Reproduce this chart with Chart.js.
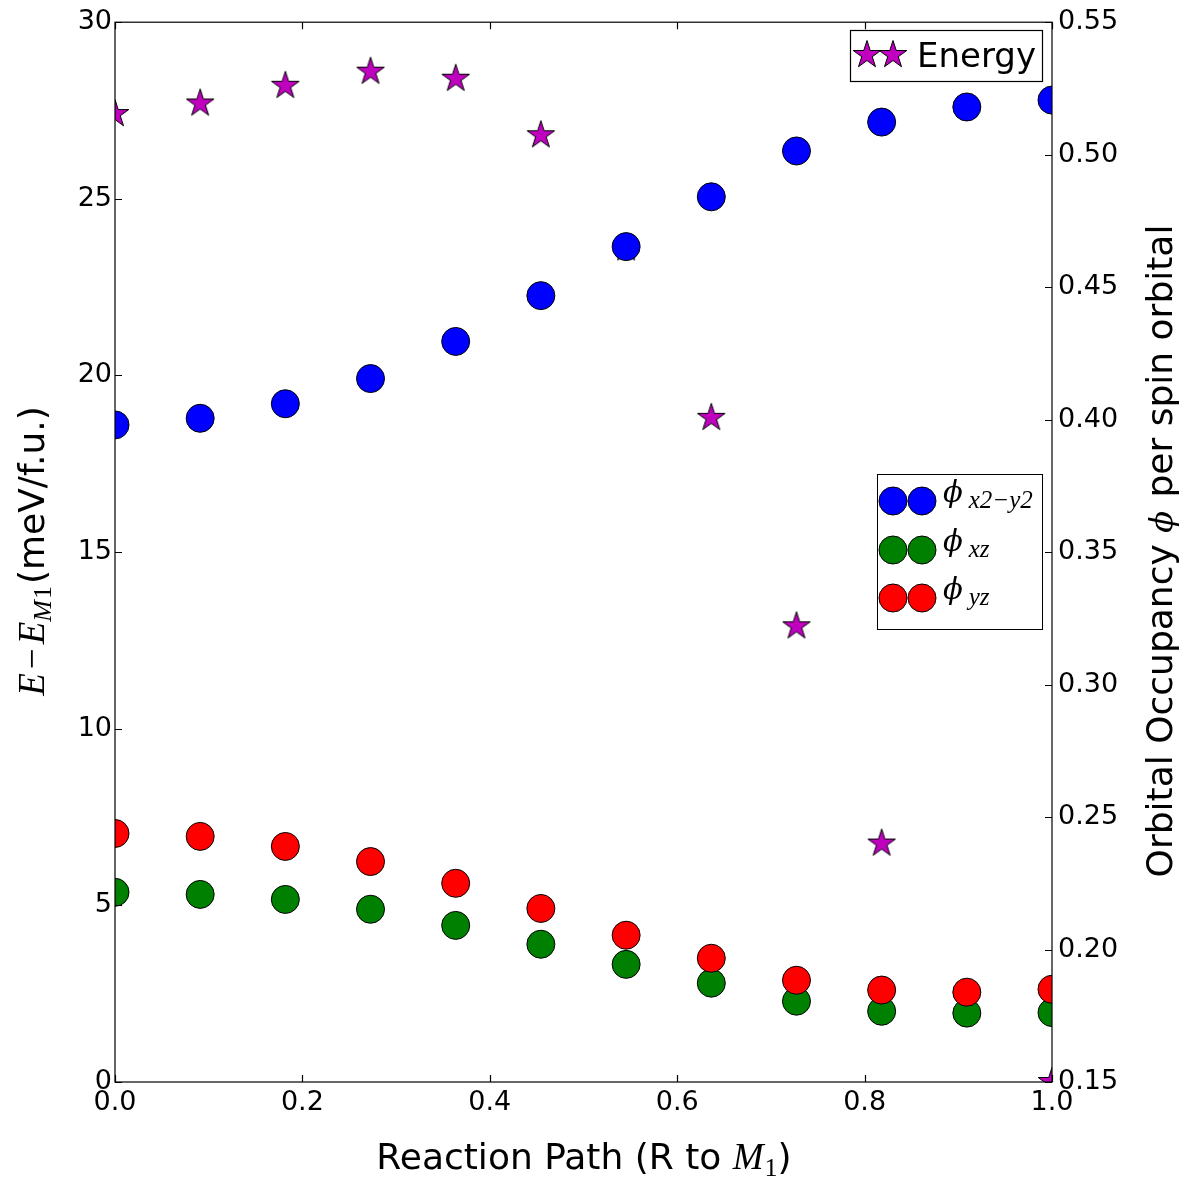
<!DOCTYPE html>
<html>
<head>
<meta charset="utf-8">
<script src="https://cdn.jsdelivr.net/npm/chart.js@4"></script>
<style>
  html, body { margin: 0; padding: 0; background: #fff; }
</style>
</head>
<body>
<canvas id="chart" width="1188" height="1183"></canvas>
<script>
// reaction coordinate, R (0) to M1 (1)
var path = [0, 0.0909, 0.1818, 0.2727, 0.3636, 0.4545, 0.5455, 0.6364, 0.7273, 0.8182, 0.9091, 1.0];

// E - E_M1 in meV/f.u. (left axis)
var energy = [27.4, 27.7, 28.2, 28.6, 28.4, 26.8, 23.6, 18.8, 12.9, 6.75, 2.4, 0.0];

// orbital occupancy per spin orbital (right axis)
var occX2Y2 = [0.398, 0.4005, 0.406, 0.4155, 0.4295, 0.4468, 0.4653, 0.4841, 0.5014, 0.5123, 0.518, 0.5206];
var occXZ = [0.2216, 0.2208, 0.2189, 0.2152, 0.2091, 0.2020, 0.1944, 0.1873, 0.1805, 0.1767, 0.1760, 0.1762];
var occYZ = [0.2438, 0.2427, 0.2389, 0.2332, 0.2250, 0.2155, 0.2054, 0.1967, 0.1884, 0.1847, 0.1839, 0.1850];

var xTicks = [0, 0.2, 0.4, 0.6, 0.8, 1.0];
var leftTicks = [0, 5, 10, 15, 20, 25, 30];
var rightTicks = [0.15, 0.20, 0.25, 0.30, 0.35, 0.40, 0.45, 0.50, 0.55];

var MAGENTA = '#bf00bf';
var SANS = 'DejaVu Sans';
var MATH = '"Liberation Serif", "DejaVu Serif", serif';
var STAR_R = 14.5;

function pts(ys) {
  return path.map(function (x, i) { return { x: x, y: ys[i] }; });
}

// five pointed star, drawn onto a small canvas so it can be used as a pointStyle
function traceStar(ctx, cx, cy, r) {
  var inner = r * 0.382;
  ctx.beginPath();
  for (var k = 0; k < 10; k++) {
    var rad = k % 2 === 0 ? r : inner;
    var a = -Math.PI / 2 + k * Math.PI / 5;
    var px = cx + rad * Math.cos(a), py = cy + rad * Math.sin(a);
    if (k === 0) ctx.moveTo(px, py); else ctx.lineTo(px, py);
  }
  ctx.closePath();
}
function drawStar(ctx, cx, cy, r) {
  traceStar(ctx, cx, cy, r);
  ctx.fillStyle = MAGENTA;
  ctx.fill();
  ctx.lineWidth = 1;
  ctx.strokeStyle = '#000';
  ctx.stroke();
}
function drawDot(ctx, cx, cy, r, color) {
  ctx.beginPath();
  ctx.arc(cx, cy, r, 0, Math.PI * 2);
  ctx.fillStyle = color;
  ctx.fill();
  ctx.lineWidth = 1;
  ctx.strokeStyle = '#000';
  ctx.stroke();
}
var starImg = document.createElement('canvas');
starImg.width = 34; starImg.height = 34;
drawStar(starImg.getContext('2d'), 17, 17, STAR_R);

// text made of several runs with different fonts, centred on (cx, cy)
function drawRich(ctx, parts, cx, cy, angle) {
  ctx.save();
  ctx.translate(cx, cy);
  ctx.rotate(angle || 0);
  var total = 0;
  parts.forEach(function (p) {
    ctx.font = p.font;
    p.w = ctx.measureText(p.text).width;
    total += p.w + (p.gap || 0);
  });
  var x = -total / 2;
  ctx.textAlign = 'left';
  ctx.textBaseline = 'alphabetic';
  ctx.fillStyle = '#000';
  parts.forEach(function (p) {
    ctx.font = p.font;
    ctx.fillText(p.text, x, p.dy || 0);
    x += p.w + (p.gap || 0);
  });
  ctx.restore();
}
function drawRichLeft(ctx, parts, x, y) {
  ctx.save();
  ctx.textAlign = 'left';
  ctx.textBaseline = 'alphabetic';
  ctx.fillStyle = '#000';
  parts.forEach(function (p) {
    ctx.font = p.font;
    ctx.fillText(p.text, x, y + (p.dy || 0));
    x += ctx.measureText(p.text).width + (p.gap || 0);
  });
  ctx.restore();
}

// frame, inward ticks, axis titles and the two legend boxes
var decorations = {
  id: 'decorations',
  afterDatasetsDraw: function (chart) {
    var ctx = chart.ctx, a = chart.chartArea;
    var sx = chart.scales.x, sl = chart.scales.y, sr = chart.scales.y1;
    var tl = 7;
    ctx.save();
    ctx.strokeStyle = '#000';
    ctx.lineWidth = 1.2;
    ctx.strokeRect(a.left, a.top, a.right - a.left, a.bottom - a.top);
    ctx.beginPath();
    xTicks.forEach(function (v) {
      var px = Math.round(sx.getPixelForValue(v)) + 0.5;
      ctx.moveTo(px, a.bottom); ctx.lineTo(px, a.bottom - tl);
      ctx.moveTo(px, a.top); ctx.lineTo(px, a.top + tl);
    });
    leftTicks.forEach(function (v) {
      var py = Math.round(sl.getPixelForValue(v)) + 0.5;
      ctx.moveTo(a.left, py); ctx.lineTo(a.left + tl, py);
    });
    rightTicks.forEach(function (v) {
      var py = Math.round(sr.getPixelForValue(v)) + 0.5;
      ctx.moveTo(a.right, py); ctx.lineTo(a.right - tl, py);
    });
    ctx.stroke();
    ctx.restore();
  },
  afterDraw: function (chart) {
    var ctx = chart.ctx;
    var big = '36px ' + SANS;
    var mi = 'italic 37px ' + MATH;
    var mr = '37px ' + MATH;
    var sub = 'italic 26px ' + MATH;
    var subr = '26px ' + MATH;

    drawRich(ctx, [
      { text: 'Reaction Path (R to ', font: big },
      { text: 'M', font: mi, gap: 1 },
      { text: '1', font: subr, dy: 7 },
      { text: ')', font: big }
    ], 584, 1169, 0);

    drawRich(ctx, [
      { text: 'E', font: mi, gap: 4 },
      { text: '\u2212', font: mr, gap: 4 },
      { text: 'E', font: mi },
      { text: 'M', font: sub, dy: 7, gap: 1 },
      { text: '1', font: subr, dy: 7, gap: 2 },
      { text: '(meV/f.u.)', font: big }
    ], 44, 551, -Math.PI / 2);

    drawRich(ctx, [
      { text: 'Orbital Occupancy ', font: big },
      { text: '\u03d5', font: 'italic 32px "DejaVu Serif", serif', gap: 2 },
      { text: ' per spin orbital', font: big }
    ], 1172, 551, -Math.PI / 2);

    // energy legend
    ctx.save();
    ctx.fillStyle = '#fff';
    ctx.fillRect(850, 30, 192, 51);
    ctx.strokeStyle = '#000';
    ctx.lineWidth = 1.2;
    ctx.strokeRect(850.5, 30.5, 192, 51);
    drawStar(ctx, 867, 55, STAR_R);
    drawStar(ctx, 893, 55, STAR_R);
    ctx.fillStyle = '#000';
    ctx.font = '34px ' + SANS;
    ctx.textBaseline = 'alphabetic';
    ctx.fillText('Energy', 917, 67);

    // occupancy legend
    ctx.fillStyle = '#fff';
    ctx.fillRect(877, 474, 165, 155);
    ctx.strokeRect(877.5, 474.5, 165, 155);
    var rows = [
      { y: 501, color: '#0000ff', sub: 'x2\u2212y2' },
      { y: 550, color: '#008000', sub: 'xz' },
      { y: 598, color: '#ff0000', sub: 'yz' }
    ];
    rows.forEach(function (r) {
      drawDot(ctx, 893, r.y, 14, r.color);
      drawDot(ctx, 922, r.y, 14, r.color);
      drawRichLeft(ctx, [
        { text: '\u03d5', font: 'italic 29px "DejaVu Serif", serif', gap: 6 },
        { text: r.sub, font: 'italic 25px ' + MATH, dy: 6 }
      ], 943, r.y + 1);
    });
    ctx.restore();
  }
};

Chart.defaults.font.family = SANS;
Chart.defaults.font.size = 27;
Chart.defaults.color = '#000';

function dotSet(label, ys, color, order) {
  return {
    label: label,
    data: pts(ys),
    yAxisID: 'y1',
    showLine: false,
    pointStyle: 'circle',
    pointRadius: 14,
    pointHoverRadius: 14,
    pointBackgroundColor: color,
    pointBorderColor: '#000',
    pointBorderWidth: 1,
    clip: 0,
    order: order
  };
}

new Chart(document.getElementById('chart'), {
  type: 'scatter',
  data: {
    datasets: [
      dotSet('phi_yz', occYZ, '#ff0000', 1),
      dotSet('phi_xz', occXZ, '#008000', 2),
      dotSet('phi_x2-y2', occX2Y2, '#0000ff', 3),
      {
        label: 'Energy',
        data: pts(energy),
        yAxisID: 'y',
        showLine: false,
        pointStyle: starImg,
        pointRadius: 15,
        clip: 0,
        order: 4
      }
    ]
  },
  options: {
    responsive: false,
    animation: false,
    devicePixelRatio: 1,
    layout: { padding: { top: 20, left: 0, right: 0, bottom: 0 } },
    plugins: {
      legend: { display: false },
      tooltip: { enabled: false }
    },
    scales: {
      x: {
        type: 'linear',
        position: 'bottom',
        min: 0,
        max: 1,
        grid: { display: false, drawTicks: false },
        border: { display: false },
        afterBuildTicks: function (s) { s.ticks = xTicks.map(function (v) { return { value: v }; }); },
        afterFit: function (s) { s.height = 101; },
        ticks: {
          autoSkip: false,
          maxRotation: 0,
          padding: 5,
          callback: function (v) { return v.toFixed(1); }
        }
      },
      y: {
        type: 'linear',
        position: 'left',
        min: 0,
        max: 30,
        grid: { display: false, drawTicks: false },
        border: { display: false },
        afterBuildTicks: function (s) { s.ticks = leftTicks.map(function (v) { return { value: v }; }); },
        afterFit: function (s) { s.width = 115; },
        ticks: { autoSkip: false, padding: 3 }
      },
      y1: {
        type: 'linear',
        position: 'right',
        min: 0.15,
        max: 0.55,
        grid: { display: false, drawTicks: false },
        border: { display: false },
        afterBuildTicks: function (s) { s.ticks = rightTicks.map(function (v) { return { value: v }; }); },
        afterFit: function (s) { s.width = 136; },
        ticks: {
          autoSkip: false,
          padding: 6,
          callback: function (v) { return v.toFixed(2); }
        }
      }
    }
  },
  plugins: [decorations]
});
</script>
</body>
</html>
